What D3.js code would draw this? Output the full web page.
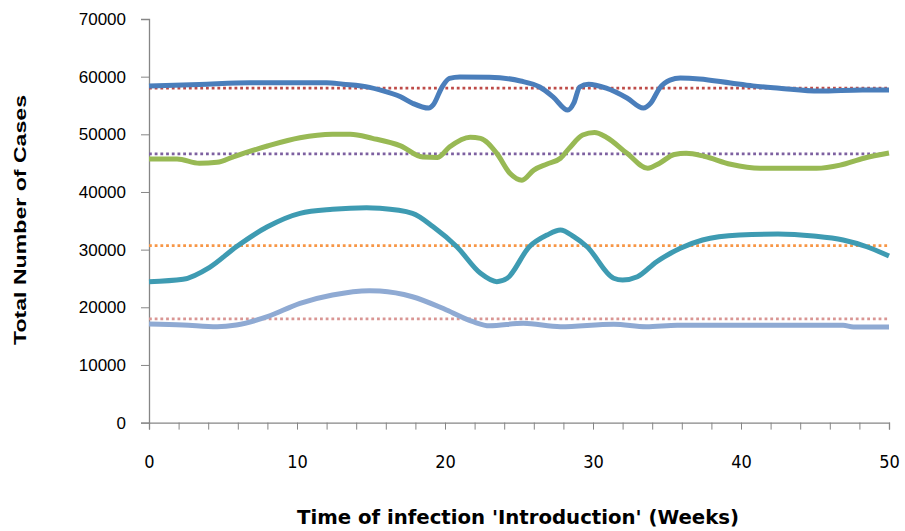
<!DOCTYPE html>
<html>
<head>
<meta charset="utf-8">
<script src="https://cdn.jsdelivr.net/npm/d3@7"></script>
<style>
  body { margin: 0; background: #fff; }
  svg { display: block; }
  .yaxis text { font-family: "Liberation Sans", Arial, sans-serif; font-size: 17px; fill: #000; }
  .xaxis text { font-family: "Liberation Sans Narrow", "DejaVu Sans Condensed", sans-serif; font-size: 18px; fill: #000; }
  .domain, .tick line { stroke: #868686; }
</style>
</head>
<body>
<svg id="chart" width="905" height="531"></svg>
<script>
// [week, total cases]
var seriesTop = [[0, 58400], [3.4, 58650], [6.8, 58950], [12, 58950], [13.1, 58700], [14.9, 58150],
  [15.6, 57700], [17, 56500], [17.8, 55400], [18.9, 54550], [19.2, 55100], [19.8, 58200], [20.3, 59700],
  [21, 59950], [23, 59900], [25.1, 59250], [26.4, 58200], [27.3, 56500], [28.3, 54200], [28.7, 55400],
  [29.1, 58200], [29.7, 58700], [30.9, 58000], [32.3, 56300], [33.4, 54550], [33.9, 55400], [34.5, 58000],
  [35.2, 59400], [35.9, 59750], [37.2, 59600], [39.3, 58900], [40.8, 58400], [42.6, 58000], [45.3, 57500],
  [48.2, 57700], [50, 57700]]
var seriesGreen = [[0, 45700], [1.9, 45700], [3.4, 44970], [4.6, 45140], [5.7, 46100], [8, 47970],
  [10.2, 49400], [12.4, 49990], [13.6, 50000], [15.1, 49300], [17, 48000], [18.5, 46050], [19.5, 46000],
  [20.3, 47800], [21.7, 49500], [22.4, 49300], [23.5, 46700], [24.4, 43200], [25.2, 42050], [26, 43800],
  [26.9, 44850], [27.8, 45850], [28.4, 47600], [29.3, 49870], [30.1, 50300], [30.9, 49500], [32.3, 46700],
  [33.7, 44100], [34.5, 45000], [35.5, 46500], [36.3, 46700], [37.5, 46200], [39.3, 44800], [41.3, 44100],
  [45.1, 44100], [46.7, 44650], [48.3, 45850], [50, 46750]]
var seriesTeal = [[0, 24440], [2.3, 24850], [4.1, 26930], [5.9, 30500], [8, 33970], [10.2, 36300],
  [12.4, 37000], [14.7, 37270], [15.6, 37170], [17.8, 36300], [19.2, 33970], [20.8, 30500], [22.4, 25890],
  [23.5, 24440], [24.2, 25030], [25.7, 30500], [26.9, 32540], [27.8, 33400], [28.7, 32250], [29.6, 30500],
  [31.4, 25030], [32, 24730], [33, 25300], [34.3, 27900], [35.9, 30220], [37.4, 31670], [39.9, 32540],
  [42.5, 32710], [44.9, 32360], [46.9, 31670], [48.5, 30500], [50, 28900]]
var seriesLight = [[0, 17100], [2.3, 16930], [4.6, 16630], [5.9, 16930], [8, 18370], [10.2, 20690],
  [12.4, 22130], [14.9, 22870], [15.6, 22820], [17.8, 21830], [20.1, 19530], [21.9, 17500], [23, 16800],
  [25.3, 17220], [27.8, 16630], [31.4, 17050], [33.6, 16630], [35.7, 16870], [46.9, 16870], [47.6, 16580],
  [50, 16580]]

// dotted reference levels (average of each run)
var averages = [58000, 46600, 30700, 18000]

var lineColors = ['#4a7ebb', '#98b954', '#3e9bb2', '#8faad3']
var avgColors = ['#be4b48', '#7d60a0', '#f79646', '#d99694']

var xTicks = d3.range(0, 51, 2)
var xLabels = [0, 10, 20, 30, 40, 50]
var yTicks = d3.range(0, 70001, 10000)

var svg = d3.select('#chart')
var plotLeft = 149, plotRight = 889, plotTop = 19, plotBottom = 422.6

var x = d3.scaleLinear().domain([0, 50]).range([plotLeft, plotRight])
var y = d3.scaleLinear().domain([0, 70000]).range([plotBottom, plotTop])

svg.append('g')
    .attr('class', 'yaxis')
    .attr('transform', 'translate(' + plotLeft + ',0)')
    .call(d3.axisLeft(y).tickValues(yTicks).tickSize(8).tickPadding(15).tickFormat(d3.format('d')))

svg.append('g')
    .attr('class', 'xaxis')
    .attr('transform', 'translate(0,' + plotBottom + ')')
    .call(d3.axisBottom(x).tickValues(xTicks).tickSize(7).tickPadding(26)
      .tickFormat(function (d) { return xLabels.indexOf(d) >= 0 ? d : '' }))

svg.selectAll('.domain').attr('stroke-width', 1.3)

// dotted average lines
svg.selectAll('line.avg')
    .data(averages)
    .enter()
    .append('line')
    .attr('class', 'avg')
    .attr('x1', x(0))
    .attr('x2', x(50))
    .attr('y1', function (d) { return y(d) })
    .attr('y2', function (d) { return y(d) })
    .attr('stroke', function (d, i) { return avgColors[i] })
    .attr('stroke-width', 2.8)
    .attr('stroke-dasharray', '2.8 2.9')

var line = d3.line()
    .x(function (d) { return x(d[0]) })
    .y(function (d) { return y(d[1]) })
    .curve(d3.curveMonotoneX)

svg.selectAll('path.series')
    .data([seriesTop, seriesGreen, seriesTeal, seriesLight])
    .enter()
    .append('path')
    .attr('class', 'series')
    .attr('d', line)
    .attr('fill', 'none')
    .attr('stroke', function (d, i) { return lineColors[i] })
    .attr('stroke-width', 5)
    .attr('stroke-linejoin', 'round')

// axis titles
svg.append('text')
    .attr('x', 518)
    .attr('y', 524)
    .attr('text-anchor', 'middle')
    .attr('textLength', 442)
    .attr('lengthAdjust', 'spacingAndGlyphs')
    .style('font-family', '"Liberation Sans Narrow", "DejaVu Sans Condensed", sans-serif')
    .style('font-weight', 'bold')
    .style('font-size', '19px')
    .text("Time of infection 'Introduction' (Weeks)")

svg.append('text')
    .attr('transform', 'translate(26,220) rotate(-90)')
    .attr('text-anchor', 'middle')
    .attr('textLength', 250)
    .attr('lengthAdjust', 'spacingAndGlyphs')
    .style('font-family', '"Liberation Sans", Arial, sans-serif')
    .style('font-weight', 'bold')
    .style('font-size', '17px')
    .text('Total Number of Cases')
</script>
</body>
</html>
